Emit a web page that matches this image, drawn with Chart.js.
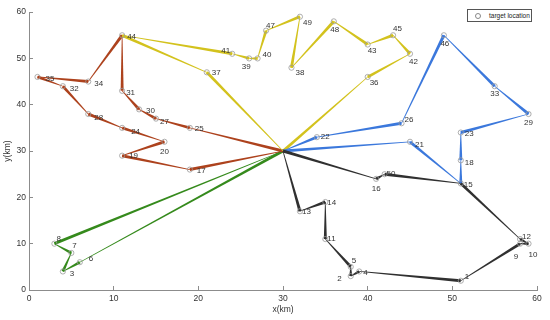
<!DOCTYPE html>
<html>
<head>
<meta charset="utf-8">
<script src="https://cdn.jsdelivr.net/npm/chart.js@4.4.1/dist/chart.umd.min.js"></script>
<style>
  html, body { margin: 0; padding: 0; background: #fff; }
  #wrap { position: relative; width: 550px; height: 320px; }
  #legend {
    position: absolute; left: 467px; top: 9px; width: 63px; height: 11px;
    border: 1px solid #555; background: #fff;
    font: 6.5px "Liberation Sans", Arial, sans-serif; color: #222;
  }
  #legend .mk {
    position: absolute; left: 7px; top: 3px; width: 4px; height: 4px;
    border: 0.8px solid #888; border-radius: 50%;
  }
  #legend .tx { position: absolute; left: 21px; top: 1.5px; white-space: nowrap; }
</style>
</head>
<body>
<div id="wrap">
  <canvas id="c" width="550" height="320"></canvas>
  <div id="legend"><span class="mk"></span><span class="tx">target location</span></div>
</div>
<script>
// target coordinates (km), index = point number - 1
const PX = [51, 38, 4, 39, 38, 6, 5, 3, 58, 59, 35, 58, 32, 35, 51, 41, 19, 51, 11, 16,
            45, 34, 51, 11, 19, 44, 15, 7, 59, 13, 11, 4, 55, 7, 1, 40, 21, 31, 26, 27,
            24, 45, 40, 11, 43, 49, 28, 36, 32, 42];
const PY = [2, 3, 4, 4, 5, 6, 8, 10, 10, 10, 11, 11, 17, 19, 23, 24, 26, 28, 29, 32,
            32, 33, 34, 35, 35, 36, 37, 38, 38, 39, 43, 44, 44, 45, 46, 46, 47, 48, 50, 50,
            51, 51, 53, 55, 55, 55, 56, 58, 59, 25];
const DEPOT = [30, 30];

// vehicle routes (point numbers, depot at both ends)
const ROUTE_GREEN = [8, 7, 3, 6];
const ROUTE_RED = [17, 19, 20, 24, 28, 32, 35, 34, 44, 31, 30, 27, 25];
const ROUTE_YELLOW = [37, 44, 41, 39, 40, 47, 49, 38, 48, 43, 45, 42, 36];
const ROUTE_BLUE = [22, 26, 46, 33, 29, 23, 18, 15, 21];
const ROUTE_BLACK = [13, 14, 11, 5, 2, 4, 1, 9, 10, 12, 15, 50, 16];

const X_TICKS = [0, 10, 20, 30, 40, 50, 60];
const Y_TICKS = [0, 10, 20, 30, 40, 50, 60];

// label placement: [dx, dy, align] in px from the marker
const LABEL_POS = {
  1: [4, -4], 2: [-9, 3, "right"], 3: [7, 2], 4: [4, 1], 5: [1, -6], 6: [9, -3],
  7: [1, -7], 8: [2, -5], 9: [-4, 13, "center"], 10: [0, 11], 11: [2, 0], 12: [2, -2],
  13: [2, 1], 14: [2, 1], 15: [3, 1], 16: [0, 10, "center"], 17: [7, 1], 18: [4, 2],
  19: [7, 0], 20: [0, 10, "center"], 21: [5, 3], 22: [4, 0], 23: [4, 1], 24: [9, 4],
  25: [5, 1], 26: [3, -3], 27: [4, 3], 28: [6, 4], 29: [0, 9, "center"], 30: [7, 1],
  31: [4, 2], 32: [7, 3], 33: [0, 8, "center"], 34: [6, 2], 35: [8, 2], 36: [2, 6],
  37: [5, 0], 38: [4, 5], 39: [-3, 8, "center"], 40: [5, -4], 41: [-2, -3, "right"],
  42: [-1, 8], 43: [0, 6], 44: [5, 2], 45: [0, -6], 46: [1, 9, "center"], 47: [0, -5],
  48: [1, 8, "center"], 49: [3, 6], 50: [2, 0],
};

const FONT = "'Liberation Sans', Arial, sans-serif";

function routeData(ids) {
  const pts = ids.map((id) => ({ x: PX[id - 1], y: PY[id - 1] }));
  return [{ x: DEPOT[0], y: DEPOT[1] }, ...pts, { x: DEPOT[0], y: DEPOT[1] }];
}

function routeSet(ids, color) {
  return {
    label: "route",
    data: routeData(ids),
    taper: true,
    borderColor: color,
    backgroundColor: color,
    pointRadius: 0,
    showLine: false,
    order: 2,
  };
}

// lines drawn as tapered segments, thin at the start and thick at the end
const taperPlugin = {
  id: "taper",
  beforeDatasetsDraw(chart) {
    const ctx = chart.ctx;
    ctx.save();
    chart.data.datasets.forEach((ds, i) => {
      if (!ds.taper) return;
      const pts = chart.getDatasetMeta(i).data;
      ctx.fillStyle = ds.borderColor;
      for (let k = 0; k < pts.length - 1; k++) {
        const a = pts[k], b = pts[k + 1];
        const dx = b.x - a.x, dy = b.y - a.y;
        const len = Math.hypot(dx, dy) || 1;
        const nx = -dy / len, ny = dx / len;
        const w0 = 0.35, w1 = 1.5;
        ctx.beginPath();
        ctx.moveTo(a.x + nx * w0, a.y + ny * w0);
        ctx.lineTo(b.x + nx * w1, b.y + ny * w1);
        ctx.lineTo(b.x - nx * w1, b.y - ny * w1);
        ctx.lineTo(a.x - nx * w0, a.y - ny * w0);
        ctx.closePath();
        ctx.fill();
      }
    });
    ctx.restore();
  },
};

const labelPlugin = {
  id: "pointLabels",
  afterDatasetsDraw(chart) {
    const ctx = chart.ctx;
    const xs = chart.scales.x, ys = chart.scales.y;
    ctx.save();
    ctx.font = "8px " + FONT;
    ctx.fillStyle = "#333";
    ctx.textBaseline = "middle";
    PX.forEach((x, i) => {
      const id = i + 1;
      const pos = LABEL_POS[id] || [4, 1];
      ctx.textAlign = pos[2] || "left";
      ctx.fillText(String(id), xs.getPixelForValue(x) + pos[0], ys.getPixelForValue(PY[i]) + pos[1]);
    });
    ctx.restore();
  },
};

const axisCommon = {
  type: "linear",
  min: 0,
  max: 60,
  border: { display: true, color: "#8c8c8c", width: 1 },
  grid: { drawOnChartArea: false, drawTicks: true, tickLength: -4, color: "#8c8c8c" },
  title: { display: true, color: "#333", font: { family: FONT, size: 8.5 } },
};

new Chart(document.getElementById("c"), {
  type: "scatter",
  data: {
    datasets: [
      {
        label: "target location",
        data: PX.map((x, i) => ({ x, y: PY[i] })),
        pointRadius: 2.6,
        pointBorderWidth: 0.8,
        pointBorderColor: "#9a9a9a",
        pointBackgroundColor: "rgba(255,255,255,0)",
        order: 1,
      },
      routeSet(ROUTE_GREEN, "#358a1c"),
      routeSet(ROUTE_RED, "#ad421d"),
      routeSet(ROUTE_YELLOW, "#d3c21d"),
      routeSet(ROUTE_BLUE, "#3b78dc"),
      routeSet(ROUTE_BLACK, "#303030"),
    ],
  },
  options: {
    responsive: false,
    animation: false,
    layout: { padding: { top: 8, right: 13, left: 0, bottom: 0 } },
    plugins: { legend: { display: false }, tooltip: { enabled: false } },
    scales: {
      x: {
        ...axisCommon,
        position: "bottom",
        afterBuildTicks: (s) => { s.ticks = X_TICKS.map((v) => ({ value: v })); },
        ticks: { color: "#333", padding: 8, maxRotation: 0, font: { family: FONT, size: 8.5 } },
        title: { ...axisCommon.title, text: "x(km)", padding: { top: 0, bottom: 5 } },
        afterFit: (s) => { s.height = 30; },
      },
      y: {
        ...axisCommon,
        position: "left",
        afterBuildTicks: (s) => { s.ticks = Y_TICKS.map((v) => ({ value: v })); },
        ticks: { color: "#333", padding: 7, font: { family: FONT, size: 8.5 } },
        title: { ...axisCommon.title, text: "y(km)", padding: { top: 3, bottom: 0 } },
        afterFit: (s) => { s.width = 29; },
      },
    },
  },
  plugins: [taperPlugin, labelPlugin],
});
</script>
</body>
</html>
